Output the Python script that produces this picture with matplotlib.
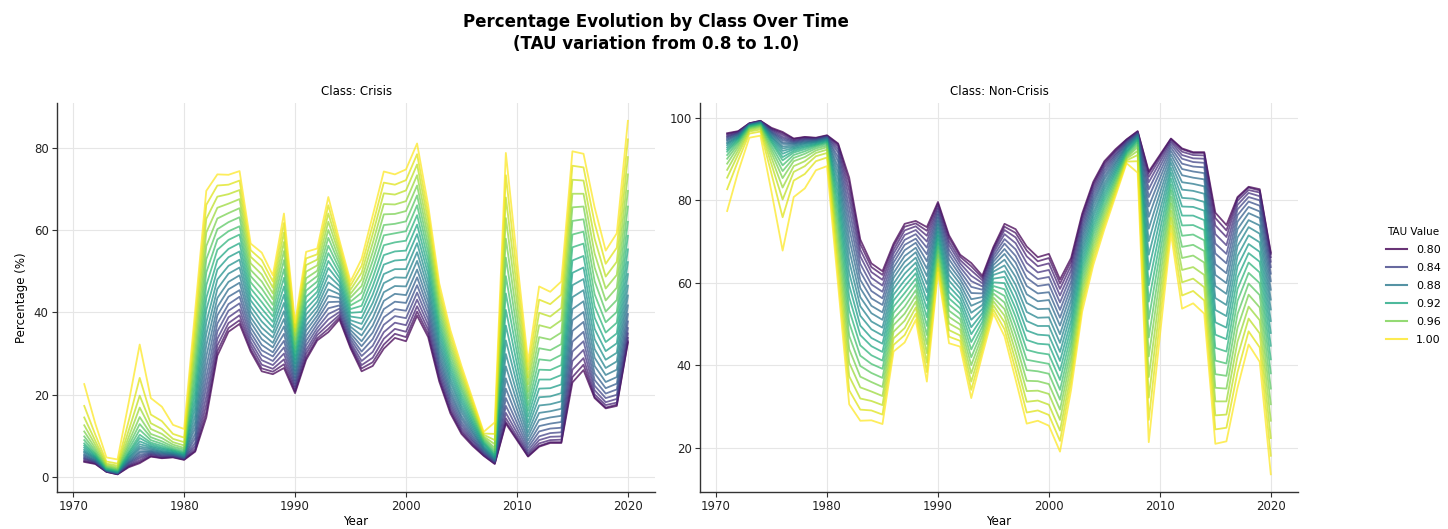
import matplotlib
matplotlib.use("Agg")
import matplotlib.pyplot as plt
import pandas as pd
from matplotlib.lines import Line2D

years = list(range(1971, 2021))
classes = ["Crisis", "Non-Crisis"]
legend_taus = [0.80, 0.84, 0.88, 0.92, 0.96, 1.00]

# Share of years classified as "Crisis" (%), one list per TAU value
crisis_tau_080 = [3.7,3.2,1.3,0.7,2.4,3.4,5.0,4.6,4.8,4.2,6.2,14.5,29.5,35.3,37.2,30.5,25.7,25.0,26.5,20.4,28.5,33.2,35.2,38.3,31.3,25.7,27.0,31.2,33.8,33.0,39.2,34.0,23.2,15.5,10.5,7.6,5.2,3.2,13.0,9.0,5.0,7.4,8.3,8.3,23.0,26.0,19.2,16.7,17.3,32.7]
crisis_tau_081 = [3.9,3.3,1.3,0.7,2.6,3.7,5.1,4.7,4.9,4.3,6.4,15.8,30.6,36.2,38.1,31.1,26.4,25.6,27.4,20.8,29.1,33.7,36.0,38.8,31.7,26.4,27.9,32.2,34.8,34.0,40.2,34.8,23.8,16.0,10.9,7.9,5.3,3.3,13.4,9.3,5.1,7.6,8.5,8.5,24.3,27.3,19.5,16.9,17.6,33.0]
crisis_tau_082 = [4.2,3.5,1.4,0.8,2.8,4.1,5.4,4.9,5.0,4.4,6.9,17.6,32.0,37.4,39.3,32.0,27.3,26.3,28.6,21.4,30.0,34.5,37.0,39.4,32.2,27.2,29.0,33.6,36.0,35.3,41.5,35.8,24.5,16.6,11.4,8.2,5.5,3.5,14.3,9.9,5.5,8.2,9.0,9.1,26.1,28.9,20.1,17.5,18.1,33.8]
crisis_tau_083 = [4.5,3.6,1.4,0.8,3.0,4.6,5.6,5.1,5.1,4.5,7.6,19.6,33.6,38.8,40.7,32.9,28.4,27.2,30.0,22.0,30.9,35.3,38.3,40.1,32.8,28.2,30.4,35.2,37.5,36.9,43.1,37.0,25.4,17.4,12.0,8.7,5.7,3.6,15.6,10.8,5.9,9.0,9.8,9.9,28.2,30.9,21.1,18.2,19.0,34.9]
crisis_tau_084 = [4.7,3.7,1.5,0.9,3.3,5.0,5.8,5.3,5.2,4.6,8.4,21.9,35.4,40.4,42.2,34.0,29.6,28.2,31.5,22.7,32.0,36.2,39.6,40.9,33.5,29.4,31.9,37.0,39.1,38.6,44.8,38.3,26.4,18.2,12.7,9.1,6.0,3.8,17.3,11.9,6.5,9.9,10.7,10.9,30.5,33.0,22.2,19.2,20.0,36.2]
crisis_tau_085 = [5.0,3.9,1.6,1.0,3.5,5.4,6.0,5.5,5.4,4.7,9.5,24.2,37.3,42.0,43.8,35.1,30.8,29.3,33.1,23.4,33.1,37.2,41.0,41.7,34.2,30.5,33.5,38.8,40.8,40.4,46.6,39.7,27.4,19.1,13.4,9.6,6.2,3.9,19.2,13.2,7.2,11.1,11.8,12.0,32.9,35.3,23.6,20.3,21.3,37.8]
crisis_tau_086 = [5.3,4.0,1.6,1.0,3.7,5.9,6.2,5.7,5.5,4.8,10.6,26.7,39.3,43.8,45.4,36.3,32.1,30.3,34.8,24.2,34.3,38.2,42.5,42.6,34.9,31.8,35.1,40.8,42.6,42.3,48.5,41.1,28.5,20.0,14.2,10.1,6.5,4.1,21.5,14.7,8.0,12.4,13.0,13.4,35.5,37.7,25.2,21.6,22.7,39.6]
crisis_tau_087 = [5.6,4.2,1.7,1.1,4.0,6.3,6.4,5.9,5.6,5.0,12.0,29.3,41.3,45.6,47.2,37.6,33.5,31.5,36.6,25.0,35.6,39.2,44.0,43.5,35.7,33.0,36.8,42.8,44.5,44.2,50.4,42.6,29.6,20.9,14.9,10.7,6.8,4.2,24.0,16.4,8.9,13.9,14.5,14.9,38.1,40.1,27.0,23.1,24.3,41.7]
crisis_tau_088 = [6.0,4.4,1.7,1.1,4.3,6.9,6.7,6.1,5.8,5.1,13.4,32.0,43.5,47.4,49.0,38.8,34.9,32.6,38.4,25.8,36.8,40.3,45.6,44.4,36.5,34.4,38.6,44.9,46.4,46.3,52.5,44.2,30.8,21.9,15.8,11.2,7.0,4.4,26.9,18.3,9.9,15.6,16.0,16.6,40.8,42.7,29.0,24.8,26.1,44.1]
crisis_tau_089 = [6.3,4.6,1.8,1.2,4.6,7.4,7.0,6.3,5.9,5.3,15.0,34.8,45.7,49.4,50.9,40.2,36.3,33.9,40.3,26.7,38.2,41.4,47.3,45.4,37.3,35.8,40.5,47.1,48.5,48.4,54.6,45.8,32.0,23.0,16.6,11.8,7.3,4.6,29.9,20.3,10.9,17.4,17.7,18.4,43.7,45.4,31.1,26.5,28.1,46.5]
crisis_tau_090 = [6.7,4.8,1.9,1.3,4.9,8.0,7.3,6.6,6.1,5.4,16.8,37.6,48.0,51.3,52.8,41.5,37.8,35.1,42.3,27.6,39.5,42.6,49.0,46.4,38.1,37.2,42.3,49.3,50.5,50.5,56.8,47.4,33.2,24.0,17.4,12.4,7.6,4.8,33.2,22.6,12.1,19.4,19.6,20.4,46.6,48.1,33.5,28.5,30.2,49.3]
crisis_tau_091 = [7.2,5.0,2.0,1.4,5.3,8.7,7.6,6.9,6.3,5.6,18.6,40.6,50.4,53.4,54.8,42.9,39.4,36.4,44.3,28.5,40.9,43.8,50.8,47.4,39.0,38.6,44.3,51.6,52.6,52.8,59.0,49.2,34.5,25.1,18.3,13.0,8.0,5.1,36.8,24.9,13.3,21.5,21.6,22.5,49.6,50.9,36.0,30.6,32.5,52.2]
crisis_tau_092 = [7.7,5.3,2.0,1.5,5.7,9.5,8.0,7.2,6.5,5.8,20.6,43.5,52.7,55.4,56.8,44.3,40.9,37.7,46.3,29.4,42.3,45.0,52.5,48.4,39.9,40.1,46.3,53.9,54.8,55.0,61.3,50.9,35.8,26.2,19.2,13.6,8.3,5.3,40.6,27.5,14.7,23.7,23.7,24.8,52.6,53.7,38.7,32.8,34.9,55.3]
crisis_tau_093 = [8.2,5.6,2.1,1.6,6.1,10.3,8.4,7.6,6.7,6.0,22.7,46.6,55.2,57.6,58.9,45.8,42.5,39.0,48.4,30.4,43.8,46.2,54.4,49.5,40.8,41.6,48.3,56.3,57.0,57.4,63.6,52.7,37.1,27.3,20.1,14.3,8.6,5.6,44.6,30.2,16.1,26.1,26.0,27.2,55.8,56.7,41.5,35.1,37.5,58.6]
crisis_tau_094 = [9.0,5.9,2.3,1.7,6.8,11.5,9.0,8.1,7.0,6.3,24.9,49.7,57.7,59.7,60.9,47.3,44.1,40.4,50.5,31.3,45.3,47.5,56.2,50.6,41.7,43.2,50.4,58.7,59.2,59.7,66.0,54.5,38.4,28.4,21.1,14.9,8.9,6.0,48.8,33.0,17.5,28.6,28.3,29.7,58.9,59.6,44.4,37.6,40.1,62.0]
crisis_tau_095 = [9.9,6.4,2.5,1.9,7.6,12.9,9.7,8.7,7.4,6.7,27.2,52.9,60.2,61.9,63.1,48.8,45.8,41.8,52.7,32.3,46.8,48.8,58.1,51.7,42.6,44.8,52.5,61.2,61.5,62.1,68.4,56.3,39.8,29.6,22.0,15.6,9.3,6.5,53.3,36.0,19.1,31.3,30.8,32.3,62.2,62.6,47.6,40.2,43.0,65.7]
crisis_tau_096 = [11.1,7.0,2.7,2.1,8.5,14.6,10.5,9.5,7.9,7.1,29.7,56.1,62.8,64.1,65.3,50.3,47.5,43.2,54.9,33.3,48.3,50.1,60.0,52.8,43.6,46.4,54.6,63.8,63.9,64.6,70.8,58.2,41.2,30.8,23.0,16.2,9.6,7.1,57.9,39.1,20.7,34.0,33.4,35.1,65.5,65.7,50.9,42.9,46.0,69.5]
crisis_tau_097 = [12.6,7.8,3.0,2.4,9.7,16.9,11.7,10.5,8.5,7.7,32.2,59.4,65.4,66.4,67.5,51.9,49.2,44.6,57.1,34.4,49.9,51.4,62.0,54.0,44.5,48.0,56.8,66.3,66.2,67.0,73.3,60.1,42.6,32.0,24.0,16.9,9.9,8.0,62.9,42.4,22.5,36.9,36.2,38.1,68.8,68.8,54.3,45.8,49.1,73.5]
crisis_tau_098 = [14.5,8.8,3.3,2.8,11.3,19.8,13.1,11.7,9.3,8.5,34.9,62.7,68.1,68.7,69.7,53.5,51.0,46.0,59.4,35.4,51.5,52.8,64.0,55.1,45.5,49.6,59.0,68.9,68.6,69.6,75.9,62.1,44.1,33.2,25.0,17.6,10.3,9.0,67.9,45.8,24.2,39.9,39.0,41.1,72.2,72.0,57.9,48.7,52.3,77.7]
crisis_tau_099 = [17.3,10.3,3.8,3.3,13.6,24.1,15.2,13.6,10.5,9.6,37.7,66.1,70.8,71.0,72.0,55.1,52.7,47.5,61.7,36.4,53.1,54.1,66.0,56.3,46.5,51.3,61.2,71.5,71.0,72.1,78.4,64.0,45.5,34.5,26.0,18.3,10.6,10.5,73.3,49.3,26.1,43.1,42.0,44.3,75.6,75.2,61.7,51.8,55.7,82.0]
crisis_tau_100 = [22.6,13.0,4.8,4.3,18.0,32.2,19.2,17.1,12.7,11.7,40.5,69.5,73.5,73.4,74.3,56.7,54.5,49.0,64.0,37.5,54.7,55.5,68.0,57.5,47.5,53.0,63.5,74.2,73.5,74.7,81.0,66.0,47.0,35.7,27.0,19.0,11.0,13.3,78.7,53.0,28.0,46.3,45.0,47.5,79.1,78.5,65.5,55.0,59.2,86.5]

tau_series = {
    0.80: crisis_tau_080, 0.81: crisis_tau_081, 0.82: crisis_tau_082,
    0.83: crisis_tau_083, 0.84: crisis_tau_084, 0.85: crisis_tau_085,
    0.86: crisis_tau_086, 0.87: crisis_tau_087, 0.88: crisis_tau_088,
    0.89: crisis_tau_089, 0.90: crisis_tau_090, 0.91: crisis_tau_091,
    0.92: crisis_tau_092, 0.93: crisis_tau_093, 0.94: crisis_tau_094,
    0.95: crisis_tau_095, 0.96: crisis_tau_096, 0.97: crisis_tau_097,
    0.98: crisis_tau_098, 0.99: crisis_tau_099, 1.00: crisis_tau_100,
}

rows = []
for tau, vals in tau_series.items():
    assert len(vals) == len(years), (tau, len(vals))
    for y, v in zip(years, vals):
        rows.append({"Year": y, "TAU": tau, "Class": "Crisis", "Percentage": v})
        rows.append({"Year": y, "TAU": tau, "Class": "Non-Crisis", "Percentage": 100 - v})
df = pd.DataFrame(rows)

cmap = plt.get_cmap("viridis")
tmin, tmax = min(tau_series), max(tau_series)
def col(t):
    return cmap((t - tmin) / (tmax - tmin))

plt.rcParams["font.family"] = "DejaVu Sans"
fig = plt.figure(figsize=(14.48, 5.29), dpi=100)
ax1 = fig.add_axes([0.0394, 0.070, 0.413, 0.735])
ax2 = fig.add_axes([0.4834, 0.070, 0.413, 0.735])

for ax, cls in zip([ax1, ax2], classes):
    sub = df[df["Class"] == cls]
    for tau in tau_series:
        d = sub[sub["TAU"] == tau]
        ax.plot(d["Year"], d["Percentage"], color=col(tau), lw=1.3, alpha=0.75)
    ax.set_title(f"Class: {cls}", fontsize=8.5, pad=6)
    ax.set_xlabel("Year", fontsize=8.5, labelpad=1)
    ax.grid(True, color="#e6e6e6", lw=0.8)
    ax.set_axisbelow(True)
    for s in ["top", "right"]:
        ax.spines[s].set_visible(False)
    for s in ["left", "bottom"]:
        ax.spines[s].set_color("#333333")
        ax.spines[s].set_linewidth(1.0)
    ax.tick_params(labelsize=8.5, length=3.5, width=0.8, pad=2.5,
                   color="#333333", labelcolor="#222222")
    ax.set_xticks([1970, 1980, 1990, 2000, 2010, 2020])

ax1.set_ylabel("Percentage (%)", fontsize=8.5)

handles = [Line2D([0], [0], color=col(t), lw=1.5, alpha=0.8) for t in legend_taus]
labels = [f"{t:.2f}" for t in legend_taus]
fig.legend(handles, labels, title="TAU Value", loc="upper left",
           bbox_to_anchor=(0.954, 0.580), frameon=False, fontsize=8,
           title_fontsize=7.5, handlelength=1.9, labelspacing=0.72,
           borderaxespad=0)

fig.suptitle("Percentage Evolution by Class Over Time\n(TAU variation from 0.8 to 1.0)",
             x=0.453, y=0.975, fontsize=12, fontweight="bold", linespacing=1.25)

fig.savefig("out.png", dpi=100)
